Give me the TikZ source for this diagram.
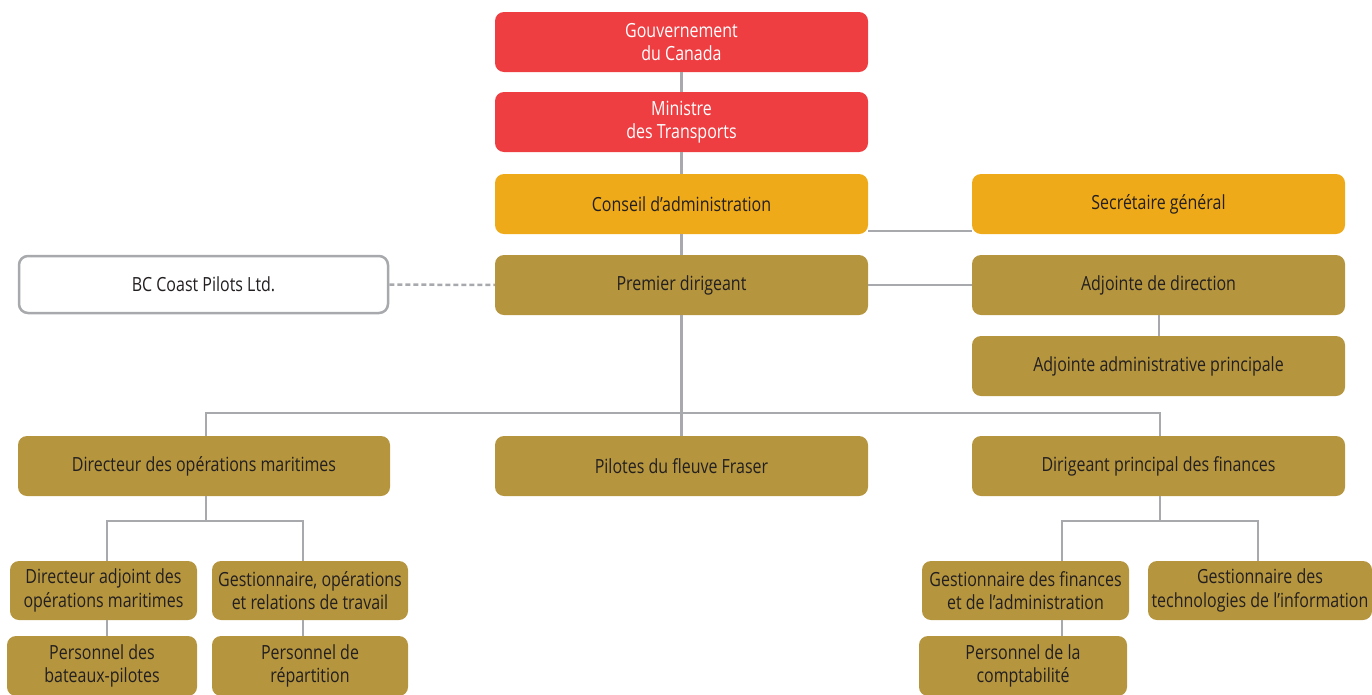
\documentclass[tikz,border=0pt]{standalone}
\usepackage{fontspec}
\setmainfont{Open Sans}[FakeStretch=0.82]
\definecolor{cred}{HTML}{EF3E42}
\definecolor{corange}{HTML}{EFAA1A}
\definecolor{cgold}{HTML}{B5953E}
\definecolor{cline}{HTML}{A7A9AC}
\definecolor{ctxt}{HTML}{231F20}
\tikzset{
  box/.style={rectangle, rounded corners=9pt, minimum height=60pt, inner sep=0pt, align=center,
    font=\fontsize{19.5}{23.3}\selectfont, text=ctxt},
  redbox/.style={box, fill=cred, text=white},
  orbox/.style={box, fill=corange},
  goldbox/.style={box, fill=cgold},
  whitebox/.style={box, fill=white, draw=cline, line width=2.5pt},
  conn/.style={draw=cline, line width=2.8pt},
  dconn/.style={draw=cline, line width=2.5pt, dash pattern=on 5pt off 3pt},
}
\begin{document}
\begin{tikzpicture}[x=1pt,y=-1pt]
\useasboundingbox (0,0) rectangle (1372,694);
% nodes
\node[redbox, minimum width=373pt] (gouv) at (681.5,42) {Gouvernement\\du Canada};
\node[redbox, minimum width=373pt] (min) at (681.5,122) {Ministre\\des Transports};
\node[orbox, minimum width=373pt] (cons) at (681.5,204) {Conseil d’administration};
\node[orbox, minimum width=373pt] (sec) at (1158.5,204) {Secrétaire général};
\node[goldbox, minimum width=373pt] (prem) at (681.5,285) {Premier dirigeant};
\node[whitebox, minimum width=369pt, minimum height=57pt] (bc) at (203.5,284.5) {BC Coast Pilots Ltd.};
\node[goldbox, minimum width=373pt] (adj) at (1158.5,285) {Adjointe de direction};
\node[goldbox, minimum width=373pt] (adja) at (1158.5,366) {Adjointe administrative principale};
\node[goldbox, minimum width=372pt] (dirops) at (204,466) {Directeur des opérations maritimes};
\node[goldbox, minimum width=373pt] (pil) at (681.5,466) {Pilotes du fleuve Fraser};
\node[goldbox, minimum width=373pt] (dirfin) at (1158.5,466) {Dirigeant principal des finances};
\node[goldbox, minimum width=187pt, minimum height=59pt] (dadj) at (103.5,590.5) {Directeur adjoint des\\opérations maritimes};
\node[goldbox, minimum width=196pt, minimum height=59pt] (gops) at (310,590.5) {Gestionnaire, opérations\\et relations de travail};
\node[goldbox, minimum width=190pt, minimum height=60pt] (pbat) at (102,666) {Personnel des\\bateaux-pilotes};
\node[goldbox, minimum width=196pt, minimum height=60pt] (prep) at (310,666) {Personnel de\\répartition};
\node[goldbox, minimum width=207pt, minimum height=59pt] (gfin) at (1025.5,590.5) {Gestionnaire des finances\\et de l’administration};
\node[goldbox, minimum width=224pt, minimum height=59pt] (gti) at (1260,590.5) {Gestionnaire des\\technologies de l’information};
\node[goldbox, minimum width=208pt, minimum height=60pt] (pcomp) at (1023,666) {Personnel de la\\comptabilité};
% helper coordinates
\coordinate (bus) at (681.5,413);
\coordinate (busL) at (206,521);
\coordinate (busR) at (1160,521);
\coordinate (xa) at (107,0);
\coordinate (xb) at (303,0);
\coordinate (xc) at (1062,0);
\coordinate (xd) at (1258,0);
\coordinate (xe) at (1159,0);
\coordinate (xf) at (1160,0);
\coordinate (xg) at (206,0);
\coordinate (ys) at (0,231);
% connectors
\draw[conn] (gouv) -- (min);
\draw[conn] (min) -- (cons);
\draw[conn] (cons) -- (prem);
\draw[conn] (prem) -- (pil);
\draw[conn] (dirops.north -| xg) |- (bus) -| (dirfin.north -| xf);
\draw[conn] (cons.east |- ys) -- (sec.west |- ys);
\draw[conn] (prem) -- (adj);
\draw[conn] (adj.south -| xe) -- (adja.north -| xe);
\draw[dconn] (bc) -- (prem);
\draw[conn] (dirops.south -| xg) -- (busL);
\draw[conn] (dadj.north -| xa) |- (busL) -| (gops.north -| xb);
\draw[conn] (dadj.south -| xa) -- (pbat.north -| xa);
\draw[conn] (gops.south -| xb) -- (prep.north -| xb);
\draw[conn] (dirfin.south -| xf) -- (busR);
\draw[conn] (gfin.north -| xc) |- (busR) -| (gti.north -| xd);
\draw[conn] (gfin.south -| xc) -- (pcomp.north -| xc);
\end{tikzpicture}
\end{document}
